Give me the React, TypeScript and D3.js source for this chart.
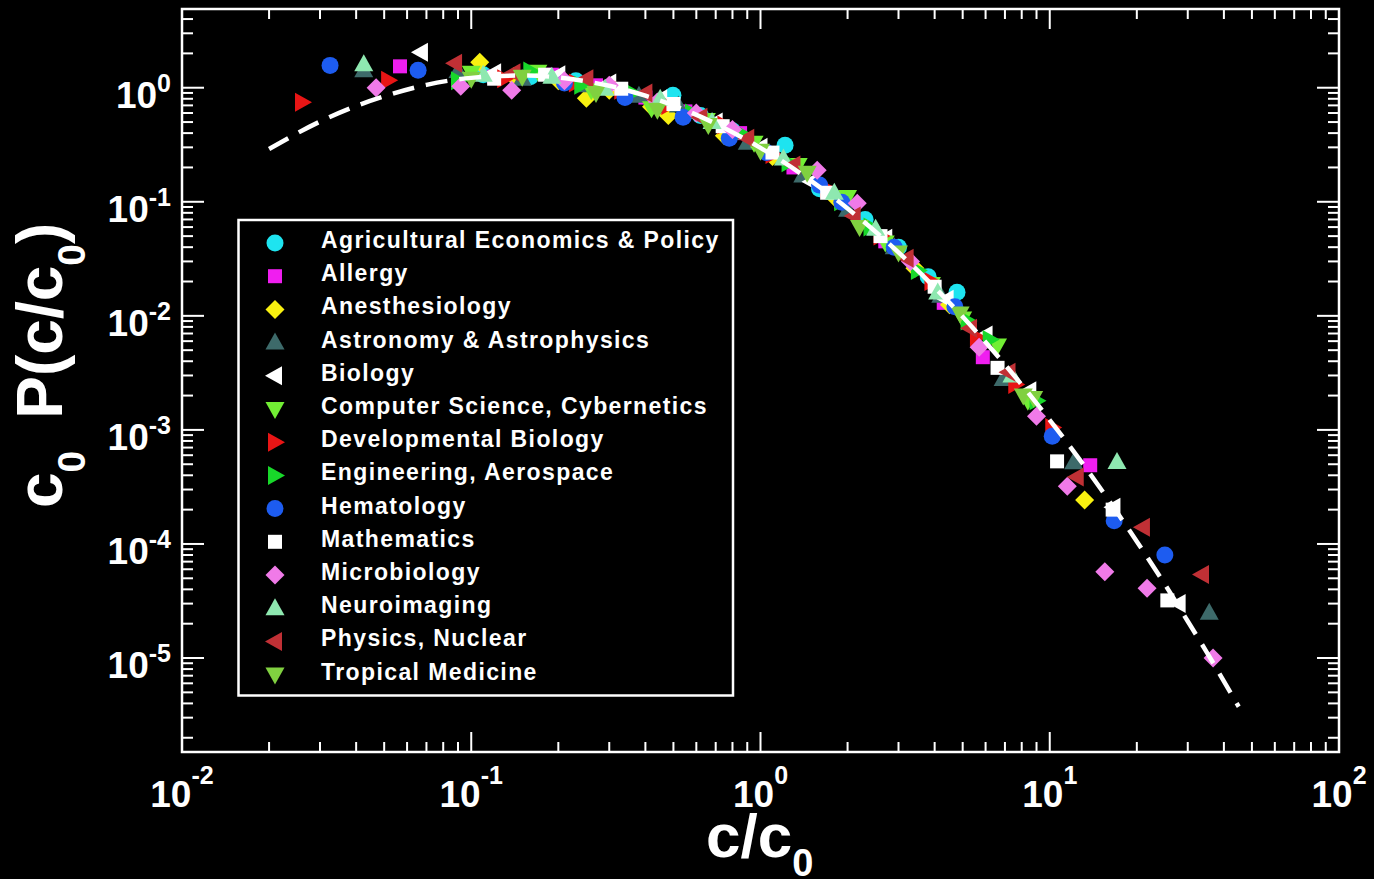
import React from 'react';
import * as d3 from 'd3';

type Pt = [number, number];

// Scaled citation distributions c0·P(c/c0) for 14 subject categories
const fields = [
  'Agricultural Economics & Policy',
  'Allergy',
  'Anesthesiology',
  'Astronomy & Astrophysics',
  'Biology',
  'Computer Science, Cybernetics',
  'Developmental Biology',
  'Engineering, Aerospace',
  'Hematology',
  'Mathematics',
  'Microbiology',
  'Neuroimaging',
  'Physics, Nuclear',
  'Tropical Medicine',
];

const agricultural: Pt[] = [
  [0.11, 1.3], [0.16, 1.25], [0.23, 1.15], [0.3, 1.0], [0.498, 0.86], [0.62, 0.57],
  [0.8, 0.42], [1.216, 0.313], [1.6, 0.13], [2.3, 0.07], [3.0, 0.04], [3.8, 0.022], [4.78, 0.0161],
];
const allergy: Pt[] = [
  [0.0567, 1.54], [0.12, 1.25], [0.19, 1.3], [0.27, 1.05], [0.4, 0.82], [0.55, 0.62],
  [0.85, 0.4], [1.3, 0.2], [1.9, 0.1], [2.7, 0.045], [4.3, 0.013], [5.87, 0.00434], [13.8, 4.9e-4],
];
const anesthesiology: Pt[] = [
  [0.107, 1.67], [0.14, 1.25], [0.2, 1.15], [0.25, 0.81], [0.3, 0.95], [0.42, 0.68], [0.48, 0.57],
  [0.75, 0.38], [1.1, 0.25], [1.8, 0.11], [3.42, 0.0261], [4.5, 0.0125], [13.2, 2.43e-4],
];
const astronomy: Pt[] = [
  [0.0425, 1.42], [0.09, 1.4], [0.15, 1.2], [0.25, 1.05], [0.38, 0.85], [0.52, 0.7],
  [0.9, 0.33], [1.4, 0.17], [2.0, 0.085], [2.9, 0.04], [4.2, 0.015], [6.9, 0.0028], [12.1, 5.2e-4], [35.6, 2.5e-5],
];
const biology: Pt[] = [
  [0.067, 2.05], [0.12, 1.35], [0.2, 1.3], [0.3, 1.1], [0.45, 0.8], [0.7, 0.5], [1.0, 0.3],
  [1.5, 0.15], [2.7, 0.048], [4.4, 0.014], [6.0, 0.0068], [8.5, 0.0022], [16.6, 2.1e-4], [27.9, 3.0e-5],
];
const computerScience: Pt[] = [
  [0.1, 1.35], [0.17, 1.38], [0.26, 0.95], [0.42, 0.66], [0.65, 0.52], [0.95, 0.33],
  [1.35, 0.21], [2.0, 0.11], [2.7, 0.044], [3.9, 0.019], [5.0, 0.0095], [6.6, 0.0055], [8.4, 0.0018],
];
const developmentalBiology: Pt[] = [
  [0.026, 0.746], [0.0516, 1.16], [0.13, 1.2], [0.23, 1.1], [0.33, 0.95], [0.48, 0.7], [0.75, 0.47],
  [1.1, 0.26], [1.7, 0.13], [2.6, 0.05], [3.9, 0.02], [5.6, 0.0065], [7.6, 0.0025], [10.2, 1.05e-3],
];
const engineering: Pt[] = [
  [0.09, 1.15], [0.16, 1.4], [0.24, 1.05], [0.36, 0.9], [0.58, 0.6], [0.85, 0.4], [1.25, 0.22],
  [1.9, 0.1], [2.4, 0.06], [3.5, 0.025], [5.2, 0.009], [6.2, 0.0062], [9.0, 0.0018],
];
const hematology: Pt[] = [
  [0.0325, 1.57], [0.0655, 1.42], [0.21, 1.1], [0.34, 0.82], [0.54, 0.55], [0.78, 0.36], [1.05, 0.27],
  [1.6, 0.14], [1.91, 0.099], [2.9, 0.04], [4.7, 0.012], [10.2, 8.8e-4], [16.7, 1.6e-4], [25.0, 8.0e-5],
];
const mathematics: Pt[] = [
  [0.12, 1.2], [0.18, 1.3], [0.33, 0.98], [0.5, 0.72], [0.74, 0.46], [1.1, 0.27], [1.7, 0.12],
  [2.6, 0.05], [4.0, 0.018], [6.6, 0.0035], [10.6, 5.3e-4], [16.5, 2.0e-4], [25.5, 3.2e-5],
];
const microbiology: Pt[] = [
  [0.0469, 1.0], [0.092, 1.03], [0.138, 0.95], [0.21, 1.15], [0.3, 1.05], [0.44, 0.75], [0.6, 0.6],
  [0.8, 0.43], [1.57, 0.189], [2.16, 0.097], [3.3, 0.03], [5.7, 0.0053], [9.0, 1.32e-3],
  [11.5, 3.2e-4], [15.5, 5.7e-5], [21.7, 4.1e-5], [36.7, 1.0e-5],
];
const neuroimaging: Pt[] = [
  [0.0425, 1.61], [0.11, 1.3], [0.19, 1.25], [0.29, 0.98], [0.45, 0.8], [0.68, 0.5], [1.2, 0.24],
  [1.8, 0.12], [2.5, 0.058], [4.1, 0.016], [7.4, 0.003], [17.08, 5.22e-4],
];
const physicsNuclear: Pt[] = [
  [0.0879, 1.64], [0.14, 1.35], [0.25, 1.2], [0.4, 0.9], [0.62, 0.55], [0.9, 0.36], [1.3, 0.21],
  [2.1, 0.075], [3.2, 0.032], [5.3, 0.0078], [7.2, 0.0032], [12.4, 3.86e-4], [21.0, 1.4e-4], [33.6, 5.4e-5],
];
const tropicalMedicine: Pt[] = [
  [0.1, 1.2], [0.15, 1.25], [0.27, 0.9], [0.44, 0.64], [0.66, 0.47], [1.0, 0.28], [1.45, 0.18],
  [2.2, 0.06], [3.0, 0.036], [4.9, 0.0105], [8.1, 0.002], [8.8, 1.9e-3],
];

// Lognormal fit drawn as the dashed reference curve
const fitCurve: Pt[] = [
  [0.02, 0.29], [0.03, 0.505], [0.04, 0.691], [0.05, 0.84], [0.07, 1.06], [0.1, 1.22], [0.15, 1.28],
  [0.2, 1.23], [0.25, 1.136], [0.3, 1.04], [0.4, 0.851], [0.5, 0.7], [0.7, 0.484], [1, 0.297],
  [1.5, 0.152], [2, 0.0874], [3, 0.036], [4, 0.01776], [5, 0.00982], [7, 0.00374], [10, 0.00122],
  [12, 6.65e-4], [15, 3.05e-4], [20, 1.05e-4], [25, 4.43e-5], [30, 2.1e-5], [35, 1.11e-5], [45, 3.74e-6],
];

const xTickExps = [-2, -1, 0, 1, 2];
const yTickExps = [0, -1, -2, -3, -4, -5];

type Shape = 'circle' | 'square' | 'diamond' | 'triUp' | 'triDown' | 'triLeft' | 'triRight';

const series: { name: string; color: string; shape: Shape; data: Pt[] }[] = [
  { name: fields[0], color: '#1ee4f0', shape: 'circle', data: agricultural },
  { name: fields[1], color: '#f01ef0', shape: 'square', data: allergy },
  { name: fields[2], color: '#f8f010', shape: 'diamond', data: anesthesiology },
  { name: fields[3], color: '#3d6a6a', shape: 'triUp', data: astronomy },
  { name: fields[4], color: '#ffffff', shape: 'triLeft', data: biology },
  { name: fields[5], color: '#72ee34', shape: 'triDown', data: computerScience },
  { name: fields[6], color: '#e81515', shape: 'triRight', data: developmentalBiology },
  { name: fields[7], color: '#18d82a', shape: 'triRight', data: engineering },
  { name: fields[8], color: '#1d5cf0', shape: 'circle', data: hematology },
  { name: fields[9], color: '#ffffff', shape: 'square', data: mathematics },
  { name: fields[10], color: '#f07ae8', shape: 'diamond', data: microbiology },
  { name: fields[11], color: '#8ee8b0', shape: 'triUp', data: neuroimaging },
  { name: fields[12], color: '#c03035', shape: 'triLeft', data: physicsNuclear },
  { name: fields[13], color: '#80d040', shape: 'triDown', data: tropicalMedicine },
];

const W = 1374;
const H = 879;
const FRAME = { left: 182, right: 1339, top: 9, bottom: 752 };
const FONT = '"Liberation Sans", Arial, Helvetica, sans-serif';

function markerPath(shape: Shape): string {
  switch (shape) {
    case 'circle': {
      const r = 8.5;
      return `M${r},0A${r},${r},0,1,1,${-r},0A${r},${r},0,1,1,${r},0Z`;
    }
    case 'square':
      return 'M-7,-7H7V7H-7Z';
    case 'diamond':
      return 'M0,-9.5L9.5,0L0,9.5L-9.5,0Z';
    case 'triUp':
      return 'M0,-10L9.5,7L-9.5,7Z';
    case 'triDown':
      return 'M0,10L9.5,-7L-9.5,-7Z';
    case 'triLeft':
      return 'M-10,0L7,-9.5L7,9.5Z';
    case 'triRight':
      return 'M10,0L-7,-9.5L-7,9.5Z';
  }
}

export default function App() {
  const x = d3.scaleLog().domain([0.01, 100]).range([FRAME.left, FRAME.right]);
  const y = d3.scaleLog().domain([4.9, 1.5e-6]).range([FRAME.top, FRAME.bottom]);

  // Minor/major ticks for every decade
  const xTicks: { v: number; major: boolean }[] = [];
  for (let e = -2; e <= 1; e++) {
    for (let k = 1; k <= 9; k++) xTicks.push({ v: k * Math.pow(10, e), major: k === 1 });
  }
  xTicks.push({ v: 100, major: true });
  const yTicks: { v: number; major: boolean }[] = [];
  for (let e = -6; e <= 0; e++) {
    for (let k = 1; k <= 9; k++) {
      const v = k * Math.pow(10, e);
      if (v >= 1.5e-6 && v < 4.9) yTicks.push({ v, major: k === 1 });
    }
  }

  const line = d3
    .line<Pt>()
    .x((d) => x(d[0]))
    .y((d) => y(d[1]))
    .curve(d3.curveMonotoneX);

  const legendX = 238.5;
  const legendY = 220;
  const legendW = 494.5;
  const legendH = 475.5;
  const rowStep = 33.2;

  return (
    <svg
      width={W}
      height={H}
      style={{ position: 'absolute', left: 0, top: 0, background: '#000' }}
      fontFamily={FONT}
    >
      <rect x={0} y={0} width={W} height={H} fill="#000" />

      {/* data markers */}
      <g>
        {series.map((s) =>
          s.data.map((d, i) => (
            <path
              key={s.name + i}
              d={markerPath(s.shape)}
              transform={`translate(${x(d[0])},${y(d[1])})`}
              fill={s.color}
            />
          ))
        )}
      </g>

      {/* lognormal fit */}
      <path
        d={line(fitCurve) || ''}
        fill="none"
        stroke="#fff"
        strokeWidth={4.5}
        strokeDasharray="22 12"
      />

      {/* frame and ticks */}
      <rect
        x={FRAME.left}
        y={FRAME.top}
        width={FRAME.right - FRAME.left}
        height={FRAME.bottom - FRAME.top}
        fill="none"
        stroke="#fff"
        strokeWidth={2.5}
      />
      <g stroke="#fff" strokeWidth={2}>
        {xTicks.map((t, i) => {
          const px = x(t.v);
          const len = t.major ? 20 : 10;
          return (
            <g key={'xt' + i}>
              <line x1={px} x2={px} y1={FRAME.bottom} y2={FRAME.bottom - len} />
              <line x1={px} x2={px} y1={FRAME.top} y2={FRAME.top + len} />
            </g>
          );
        })}
        {yTicks.map((t, i) => {
          const py = y(t.v);
          const len = t.major ? 22 : 11;
          return (
            <g key={'yt' + i}>
              <line x1={FRAME.left} x2={FRAME.left + len} y1={py} y2={py} />
              <line x1={FRAME.right} x2={FRAME.right - len} y1={py} y2={py} />
            </g>
          );
        })}
      </g>

      {/* tick labels */}
      <g fill="#fff" fontWeight="bold">
        {xTickExps.map((e) => (
          <text key={'xl' + e} x={x(Math.pow(10, e))} y={807} textAnchor="middle" fontSize={37}>
            10
            <tspan dy={-23} fontSize={25}>
              {e}
            </tspan>
          </text>
        ))}
        {yTickExps.map((e) => (
          <text key={'yl' + e} x={171} y={y(Math.pow(10, e)) + 20} textAnchor="end" fontSize={37}>
            10
            <tspan dy={-16} fontSize={25}>
              {e}
            </tspan>
          </text>
        ))}
      </g>

      {/* axis titles */}
      <text x={706} y={857} fill="#fff" fontWeight="bold" fontSize={62}>
        c/c
        <tspan dy={19} fontSize={38}>
          0
        </tspan>
      </text>
      <text
        transform="translate(62,508) rotate(-90)"
        fill="#fff"
        fontWeight="bold"
        fontSize={64}
      >
        <tspan>c</tspan>
        <tspan dy={23} fontSize={39}>
          0
        </tspan>
        <tspan dy={-23} dx={32}>
          P(c/c
        </tspan>
        <tspan dy={23} fontSize={39}>
          0
        </tspan>
        <tspan dy={-23}>)</tspan>
      </text>

      {/* legend */}
      <rect
        x={legendX}
        y={legendY}
        width={legendW}
        height={legendH}
        fill="#000"
        stroke="#fff"
        strokeWidth={2.5}
      />
      {series.map((s, i) => {
        const cy = 243 + i * rowStep;
        return (
          <g key={'lg' + i}>
            <path d={markerPath(s.shape)} transform={`translate(275,${cy})`} fill={s.color} />
            <text
              x={321}
              y={cy + 5}
              fill="#fff"
              fontWeight="bold"
              fontSize={23}
              letterSpacing={1.4}
            >
              {s.name}
            </text>
          </g>
        );
      })}
    </svg>
  );
}
